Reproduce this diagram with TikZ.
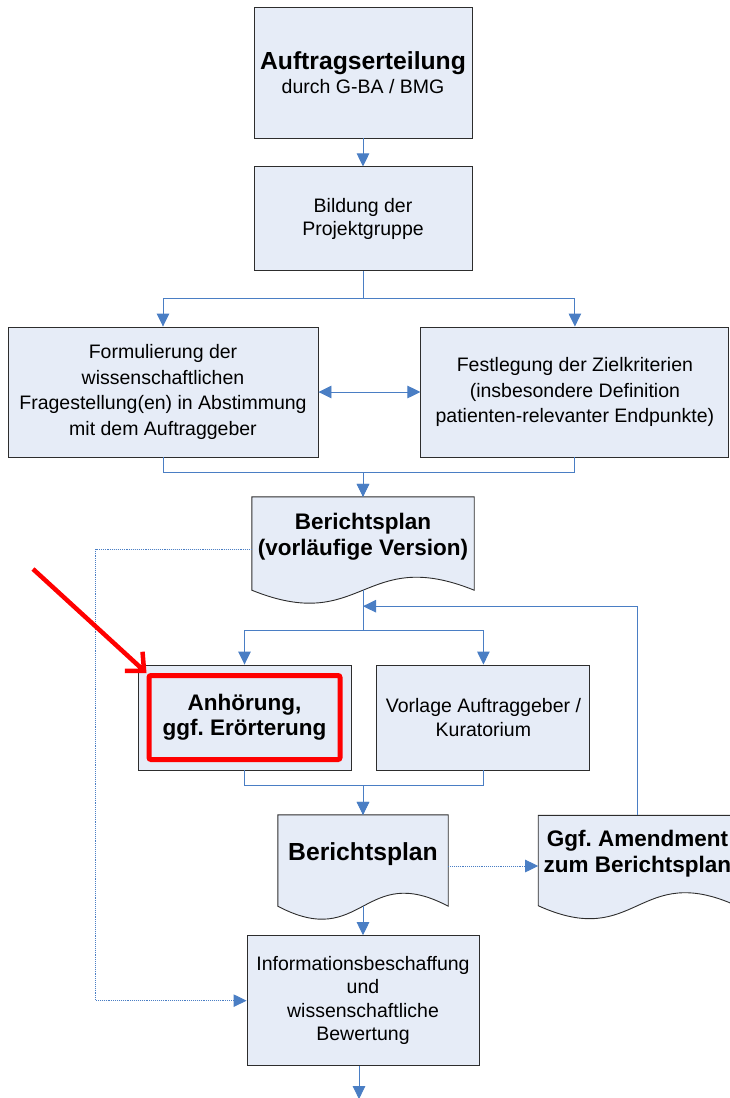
\documentclass[tikz,border=0pt]{standalone}
\usepackage{fontspec}
\setmainfont{Liberation Sans}
\usetikzlibrary{arrows.meta,positioning,calc,backgrounds}

\definecolor{boxfill}{RGB}{230,236,247}
\definecolor{boxline}{RGB}{45,45,45}
\definecolor{linkblue}{RGB}{74,126,196}

% document symbol with wavy lower edge, drawn round a node
\newcommand{\docshape}[1]{%
  \filldraw[docline] (#1.north west) -- (#1.north east) -- ($(#1.south east)+(0,13)$)
    .. controls ($(#1.south)+(0,-32)$) and ($(#1.south)+(0,58)$) .. ($(#1.south west)+(0,13)$) -- cycle;}

\begin{document}
\frenchspacing
\begin{tikzpicture}[
x=1pt, y=-1pt,
box/.style={draw=boxline, fill=boxfill, line width=0.9pt, align=center, inner sep=2pt, font=\fontsize{19.5}{23.5}\selectfont},
widebox/.style={box, font=\fontsize{19.5}{25.5}\selectfont},
doc/.style={align=center, inner sep=2pt, font=\bfseries\fontsize{22.5}{26}\selectfont},
docline/.style={draw=boxline, fill=boxfill, line width=0.9pt},
boldtxt/.style={font=\bfseries\fontsize{22.5}{25}\selectfont},
arrow/.style={-{Triangle[length=13pt,width=12.5pt]}, draw=linkblue, line width=0.9pt},
dotarrow/.style={arrow, densely dotted},
twoway/.style={{Triangle[length=13pt,width=12.5pt]}-{Triangle[length=13pt,width=12.5pt]}, draw=linkblue, line width=0.9pt},
hilite/.style={draw=red, line width=5pt, rounded corners=2pt},
pointer/.style={-{Straight Barb[length=14pt,width=26pt]}, draw=red, line width=4.5pt}
]
\useasboundingbox (0,0) rectangle (730,1098);

\node[box, minimum width=218pt, minimum height=131pt] (auf) at (363,72.5) {{\bfseries\fontsize{24.7}{28}\selectfont Auftragserteilung}\\durch G-BA / BMG};
\node[box, below=28pt of auf, minimum width=218pt, minimum height=104pt] (bil) {Bildung der\\Projektgruppe};
\node[widebox, minimum width=310pt, minimum height=130pt] (form) at (163,392) {Formulierung der\\wissenschaftlichen\\Fragestellung(en) in Abstimmung\\mit dem Auftraggeber};
\node[widebox, right=102pt of form, minimum width=308pt, minimum height=130pt] (fest) {Festlegung der Zielkriterien\\(insbesondere Definition\\patienten-relevanter Endpunkte)};
\node[doc, minimum width=222pt, minimum height=80pt] (bp1) at (363,537) {Berichtsplan\\(vorläufige Version)};
\node[box, boldtxt, minimum width=213pt, minimum height=105pt] (anh) at (244.5,717.5) {Anhörung,\\ggf. Erörterung};
\node[hilite, minimum width=191pt, minimum height=84pt] (hl) at (anh) {};
\node[box, right=25pt of anh, minimum width=213pt, minimum height=105pt] (vor) {Vorlage Auftraggeber /\\Kuratorium};
\node[doc, font=\bfseries\fontsize{24.7}{28}\selectfont, minimum width=170pt, minimum height=78pt] (bp2) at (363,854) {Berichtsplan};
\node[doc, right=90pt of bp2, minimum width=198pt, minimum height=77pt] (amd) {Ggf. Amendment\\zum Berichtsplan};
\node[box, below=42pt of bp2, minimum width=232pt, minimum height=130pt] (info) {Informationsbeschaffung\\und\\wissenschaftliche\\Bewertung};

\begin{scope}[on background layer]
\docshape{bp1}
\docshape{bp2}
\docshape{amd}
\end{scope}

\coordinate (bp1b) at ($(bp1.south)+(0,13)$);
\coordinate (bp2b) at ($(bp2.south)+(0,13)$);
\coordinate (ret) at ($(bp1b)+(0,16)$);
\coordinate (tip) at (33,569);
\coordinate (next) at ($(info.south)+(-4,33)$);

\draw[arrow] (auf) -- (bil);
\draw[arrow] (bil.south) -- ++(0,27) -| (form.north);
\draw[arrow] (bil.south) -- ++(0,27) -| (fest.north);
\draw[twoway] (form) -- (fest);
\draw[arrow] (form.south) -- ++(0,15) -| (bp1.north);
\draw[arrow] (fest.south) -- ++(0,15) -| (bp1.north);
\draw[arrow] (bp1b) -- ++(0,40) -| (anh.north);
\draw[arrow] (bp1b) -- ++(0,40) -| (vor.north);
\draw[arrow] (amd.north) |- (ret);
\draw[arrow] (anh.south) -- ++(0,15) -| (bp2.north);
\draw[arrow] (vor.south) -- ++(0,15) -| (bp2.north);
\draw[arrow] (bp2b) -- (info);
\draw[dotarrow] ([yshift=-12pt]bp2.east) -- ([yshift=-12pt]amd.west);
\draw[dotarrow] ([yshift=-12pt]bp1.west) -- ++(-156,0) |- (info.west);
\draw[arrow] ([xshift=-4pt]info.south) -- (next);
\draw[pointer] (tip) -- (hl.north west);
\end{tikzpicture}
\end{document}
